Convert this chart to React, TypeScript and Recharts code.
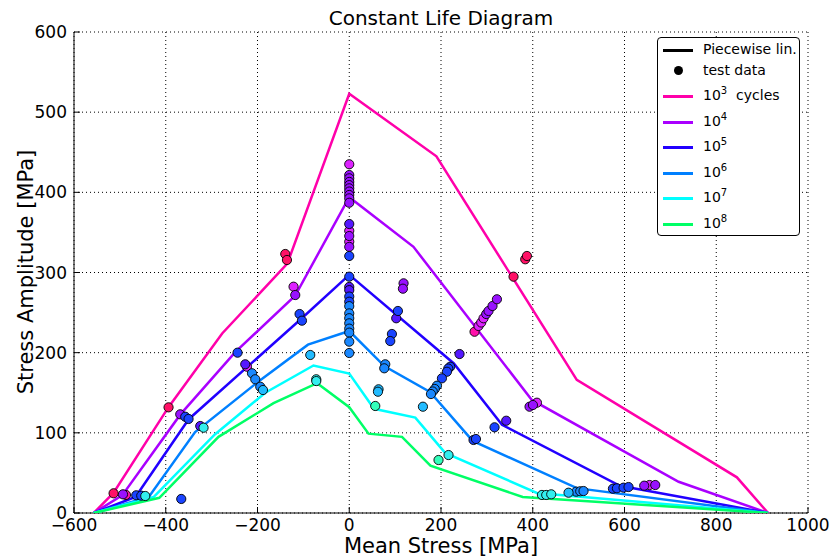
import { ScatterChart, Scatter, XAxis, YAxis, CartesianGrid } from 'recharts'

const X_TICKS = [-600, -400, -200, 0, 200, 400, 600, 800, 1000]
const Y_TICKS = [0, 100, 200, 300, 400, 500, 600]

// piecewise linear constant life lines, [mean, amplitude]
const line1e3 = [[-557, 0], [-514, 25], [-394, 132], [-277, 224], [-135, 311], [0, 523], [190, 445], [496, 166], [845, 44.5], [913, 0]]
const line1e4 = [[-557, 0], [-495, 22], [-368, 123], [-248, 201], [-118, 271], [0, 394], [140, 332], [398, 141], [718, 39], [913, 0]]
const line1e5 = [[-557, 0], [-466, 20], [-350, 117], [-107, 241], [0, 297], [228, 186.5], [333, 110], [590, 34], [913, 0]]
const line1e6 = [[-557, 0], [-437, 20], [-336, 101], [-200, 163], [-90, 210], [0, 227], [77, 183], [176, 151], [269, 90], [496, 31], [913, 0]]
const line1e7 = [[-557, 0], [-426, 20], [-293, 98], [-183, 150], [-78, 184], [0, 174], [54, 130], [144, 119], [209, 75], [409, 25], [913, 0]]
const line1e8 = [[-557, 0], [-414, 19], [-285, 95], [-165, 137], [-70, 162], [0, 132], [42, 99], [115, 95], [177, 59], [378, 20], [913, 0]]

// test data grouped by colour (roughly by cycles to failure)
const ptsRed = [[-513.7, 24.6], [-393.9, 131.8], [-139.5, 323.1], [-135.8, 315.6], [358.1, 294.8], [383.6, 316.5], [387.3, 320.6]]
const ptsPink = [[-486.7, 22.5], [273.1, 226.1]]
const ptsMagenta = [[-121.4, 282.3], [0, 435], [-223, 182.5], [0, 352], [0, 338.4], [281.8, 233.3], [287.7, 237.6], [292.7, 242.9], [409.1, 137.6], [654.5, 34.9]]
const ptsPurple = [[-493.2, 23.3], [-368.4, 123.1], [-117.7, 271.9], [0, 421.6], [0, 417.5], [0, 413], [0, 409], [0, 405], [0, 401], [0, 396.7], [0, 392.5], [0, 387], [0, 345.5], [0, 332], [118.4, 286.5], [117, 279.8], [298.6, 248.2], [303.6, 252], [312.3, 258.2], [321.9, 266.6], [393, 132.6], [400.4, 134.7], [643, 34.1], [667, 34.9]]
const ptsViolet = [[-324.8, 108.5], [-226.7, 185.5], [0, 360.5], [0, 282], [0, 278], [102.4, 242.9], [240.4, 198.3], [342.2, 115.1]]
const ptsBlue = [[-464.3, 22.1], [-453.4, 21.6], [-366.2, 17.5], [-357.5, 120.1], [-350.3, 117.3], [-243.5, 200], [-108.3, 248.2], [-103.1, 239.9], [0, 320.6], [0, 294.8], [0, 270], [0, 263.6], [106.1, 252], [93, 223.3], [89.4, 214.5], [220.1, 182.5], [215.8, 180.2], [212.9, 176.2], [202, 168], [316.7, 106.9], [270.9, 91.1], [276.2, 92.3], [574.8, 30.3], [583.5, 30.8], [597.9, 31.6], [608.8, 32.4]]
const ptsLightBlue = [[-212, 174.3], [-204.9, 166.8], [-194, 157.5], [0, 258], [0, 249], [0, 243], [0, 236.6], [0, 230], [0, 225], [0, 213.7], [0, 199.6], [78.5, 185.5], [76.3, 180.5], [191.2, 158.8], [186.4, 154.7], [182, 151.6], [178.1, 148.4], [494.8, 26.6], [503.5, 27.1], [510.7, 27.4]]
const ptsSky = [[-188.1, 153.4], [-85, 197.1], [63.9, 154.3], [62.6, 151.3], [160.6, 132.6], [478, 25.3]]
const ptsCyan = [[-444.6, 21.2], [-317.6, 106.4], [-71.9, 166.8], [-71.9, 164.6], [216.4, 72.3], [420, 22.5], [429.4, 22.5], [440.3, 23.3]]
const ptsAqua = [[56.7, 133.5], [194.6, 66.1]]

const LINES = [
  { name: '3', data: line1e3, color: '#ff00aa' },
  { name: '4', data: line1e4, color: '#aa00ff' },
  { name: '5', data: line1e5, color: '#2200ff' },
  { name: '6', data: line1e6, color: '#0080ff' },
  { name: '7', data: line1e7, color: '#00ffff' },
  { name: '8', data: line1e8, color: '#00ff66' },
]

const POINTS = [
  { data: ptsRed, color: '#ff1166' },
  { data: ptsPink, color: '#ff11aa' },
  { data: ptsMagenta, color: '#dd22ff' },
  { data: ptsPurple, color: '#9911ff' },
  { data: ptsViolet, color: '#5518ff' },
  { data: ptsBlue, color: '#1a44ff' },
  { data: ptsLightBlue, color: '#1a88ff' },
  { data: ptsSky, color: '#22bbff' },
  { data: ptsCyan, color: '#33eeee' },
  { data: ptsAqua, color: '#33ffbb' },
]

const toXY = (arr: number[][]) => arr.map(([x, y]) => ({ x, y }))
const fmt = (v: number) => (v < 0 ? `\u2212${-v}` : `${v}`)
const FONT = '"DejaVu Sans", sans-serif'

export default function App() {
  const tickStyle = { fontSize: 17, fill: '#000', fontFamily: FONT }
  return (
    <div style={{ position: 'absolute', left: 0, top: 0, width: 832, height: 558, background: '#fff', fontFamily: FONT }}>
      <ScatterChart width={832} height={558} margin={{ top: 32, right: 24, bottom: 0, left: 0 }}>
        <CartesianGrid stroke="#000" strokeDasharray="1 3" />
        <XAxis type="number" dataKey="x" domain={[-600, 1000]} ticks={X_TICKS} allowDataOverflow height={45}
          tickSize={-6} tickMargin={12} tick={tickStyle} tickFormatter={fmt} stroke="#000" interval={0} />
        <XAxis xAxisId="top" orientation="top" type="number" dataKey="x" domain={[-600, 1000]} ticks={X_TICKS}
          allowDataOverflow height={0} tickSize={-6} tick={false} stroke="#000" interval={0} />
        <YAxis type="number" dataKey="y" domain={[0, 600]} ticks={Y_TICKS} allowDataOverflow width={74}
          tickSize={-6} tickMargin={13} tick={tickStyle} tickFormatter={fmt} stroke="#000" interval={0} />
        <YAxis yAxisId="right" orientation="right" type="number" dataKey="y" domain={[0, 600]} ticks={Y_TICKS}
          allowDataOverflow width={0} tickSize={-6} tick={false} stroke="#000" interval={0} />
        {LINES.map(l => (
          <Scatter key={l.name} data={toXY(l.data)} fill={l.color} isAnimationActive={false}
            line={{ stroke: l.color, strokeWidth: 2.5 }} shape={() => <g />} />
        ))}
        {POINTS.map((p, i) => (
          <Scatter key={i} data={toXY(p.data)} isAnimationActive={false}
            shape={(s: any) => <circle cx={s.cx} cy={s.cy} r={4.6} fill={p.color} stroke="#000" strokeWidth={0.9} />} />
        ))}
      </ScatterChart>

      <div style={{ position: 'absolute', left: 0, width: 882, top: 6, textAlign: 'center', fontSize: 20, lineHeight: '24px' }}>
        Constant Life Diagram
      </div>
      <div style={{ position: 'absolute', left: 0, width: 882, top: 536, textAlign: 'center', fontSize: 21, lineHeight: '21px' }}>
        Mean Stress [MPa]
      </div>
      <div style={{ position: 'absolute', left: 26, top: 272, width: 300, marginLeft: -150, textAlign: 'center',
        fontSize: 21, transform: 'translateY(-50%) rotate(-90deg)', lineHeight: '24px' }}>
        Stress Amplitude [MPa]
      </div>

      <div style={{ position: 'absolute', left: 657, top: 37, width: 141, height: 197, border: '1px solid #000',
        borderRadius: 4, background: '#fff', fontSize: 14 }}>
        <div style={{ position: 'absolute', left: 5, top: 11, width: 30, height: 2.5, background: '#000' }} />
        <div style={{ position: 'absolute', left: 45, top: 3 }}>Piecewise lin.</div>
        <div style={{ position: 'absolute', left: 16, top: 28, width: 9, height: 9, borderRadius: 5, background: '#000' }} />
        <div style={{ position: 'absolute', left: 45, top: 24 }}>test data</div>
        {LINES.map((l, i) => (
          <div key={l.name}>
            <div style={{ position: 'absolute', left: 5, top: 57 + i * 25.6, width: 30, height: 3, background: l.color }} />
            <div style={{ position: 'absolute', left: 45, top: 47 + i * 25.6 }}>
              10<sup style={{ fontSize: 10 }}>{l.name}</sup>{i === 0 ? '\u00a0\u00a0cycles' : ''}
            </div>
          </div>
        ))}
      </div>
    </div>
  )
}
